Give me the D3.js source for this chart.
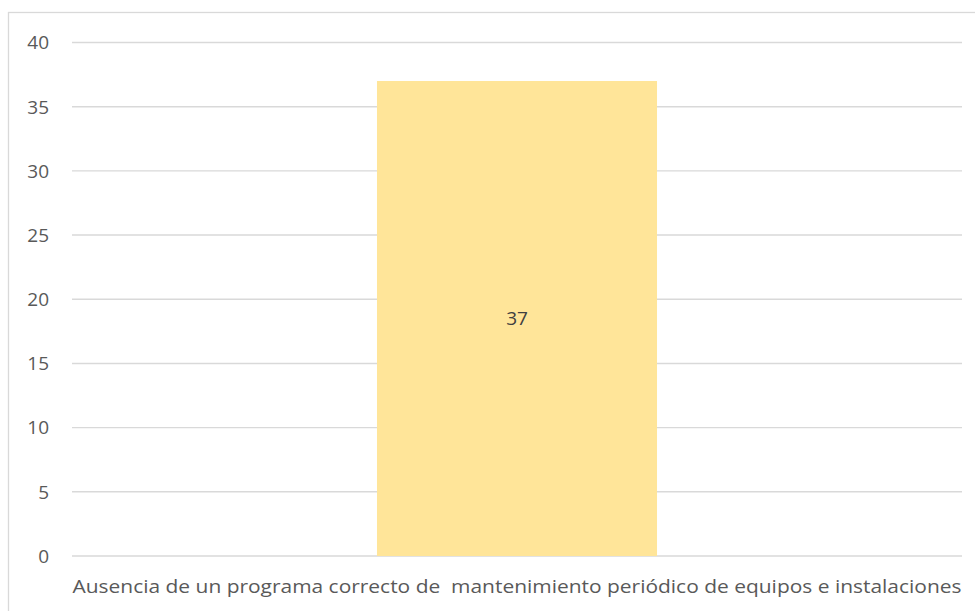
<!DOCTYPE html>
<html><head><meta charset="utf-8">
<script src="https://cdn.jsdelivr.net/npm/d3@7"></script>
<style>body{margin:0;background:#fff}svg{display:block}</style>
</head><body>
<script>
const categories = ["Ausencia de un programa correcto de  mantenimiento periódico de equipos e instalaciones"];
const values = [37];
const yTicks = [0,5,10,15,20,25,30,35,40];

const W = 975, H = 611;
const svg = d3.select("body").append("svg").attr("width", W).attr("height", H);
svg.append("rect").attr("x", 8.5).attr("y", 12.5).attr("width", 975).attr("height", 610)
  .attr("fill", "#fff").attr("stroke", "#d9d9d9").attr("stroke-width", 1.3);

const x = d3.scaleBand().domain(categories).range([72, 962]).paddingInner(0).paddingOuter(1.089);
const y = d3.scaleLinear().domain([0, 40]).range([556, 42.5]);

const font = "'Open Sans', sans-serif";
const grid = svg.append("g");
grid.selectAll("line").data(yTicks).join("line")
  .attr("x1", 72).attr("x2", 962)
  .attr("y1", d => y(d)).attr("y2", d => y(d))
  .attr("stroke", "#d9d9d9").attr("stroke-width", 1.4);

svg.append("g").selectAll("text").data(yTicks).join("text")
  .attr("x", 49).attr("y", d => y(d)).attr("dy", "0.36em")
  .attr("text-anchor", "end").attr("fill", "#595959")
  .style("font-family", font).style("font-size", "19px").text(d => d);

svg.append("g").selectAll("rect").data(values).join("rect")
  .attr("x", (d, i) => x(categories[i])).attr("width", x.bandwidth())
  .attr("y", d => y(d)).attr("height", d => y(0) - y(d)).attr("fill", "#FFE599");

svg.append("g").selectAll("text").data(values).join("text")
  .attr("x", (d, i) => x(categories[i]) + x.bandwidth() / 2)
  .attr("y", d => (y(d) + y(0)) / 2).attr("dy", "0.36em")
  .attr("text-anchor", "middle").attr("fill", "#404040")
  .style("font-family", font).style("font-size", "19px").text(d => d);

svg.append("g").selectAll("text").data(categories).join("text")
  .attr("x", 517).attr("y", 593)
  .attr("text-anchor", "middle").attr("fill", "#595959")
  .attr("textLength", 889).attr("lengthAdjust", "spacingAndGlyphs")
  .style("white-space", "pre")
  .style("font-family", font).style("font-size", "18.5px").text(d => d);
</script>
</body></html>
